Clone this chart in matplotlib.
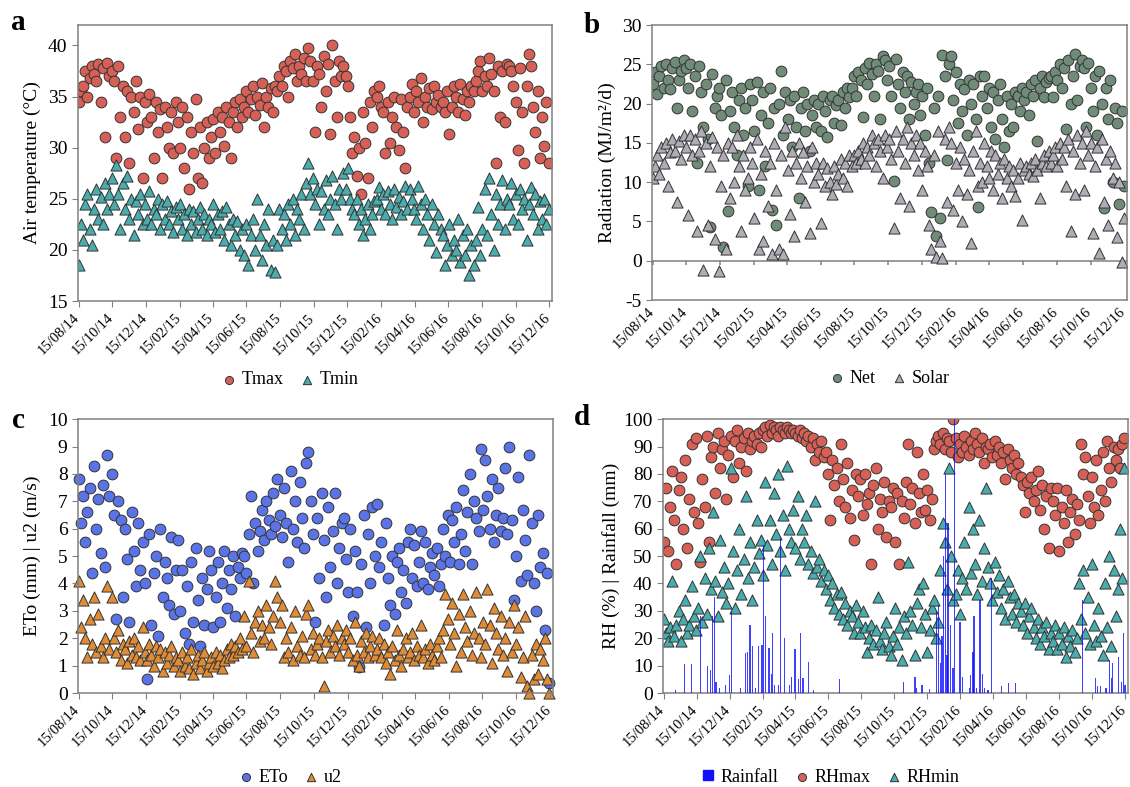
import numpy as np
import pandas as pd
import matplotlib
matplotlib.use('Agg')
import matplotlib.pyplot as plt
import matplotlib.dates as mdates
import matplotlib.transforms as mtransforms
from matplotlib.lines import Line2D

plt.rcParams['font.family'] = ['Liberation Serif', 'DejaVu Serif']
plt.rcParams['axes.unicode_minus'] = False

# 4-day samples starting 15/08/14, one row per two-month block
start = np.datetime64('2014-08-15')
step = 4

tmax = [34.5, 35.5, 36.0, 37.5, 35.0, 36.8, 38.0, 37.2, 36.5, 38.2, 34.5, 37.8, 31.0, 38.3, 37.0,
        37.5, 36.5, 29.0, 38.0, 33.0, 36.0, 31.0, 35.5, 28.5, 35.0, 33.5, 36.5, 31.8, 35.0, 27.0,
        34.5, 32.5, 35.3, 33.0, 29.0, 34.5, 31.5, 33.8, 27.0, 34.0, 32.0, 30.0, 33.5, 29.5, 34.5,
        32.5, 30.0, 34.0, 28.0, 33.0, 26.0, 31.5, 29.5, 34.8, 27.0, 32.0, 26.5, 30.0, 32.5, 29.0,
        31.0, 32.8, 29.5, 33.5, 31.5, 33.0, 30.2, 34.0, 32.5, 29.0, 33.5, 34.5, 32.0, 34.8, 33.0,
        34.0, 35.5, 33.5, 34.8, 36.0, 33.2, 35.0, 34.2, 36.3, 32.0, 35.0, 34.0, 35.8, 33.5, 36.0,
        35.5, 37.0, 36.0, 38.0, 37.5, 35.0, 38.5, 37.8, 39.2, 36.5, 38.0, 37.2, 38.8, 36.5, 39.8,
        38.5, 36.5, 31.5, 38.0, 37.2, 34.0, 39.0, 35.5, 38.2, 31.3, 40.0, 36.5, 33.0, 38.5, 37.0,
        38.0, 37.0, 36.0, 33.0, 29.5, 31.0, 27.2, 30.0, 25.5, 33.5, 30.5, 27.0, 34.5, 32.0, 35.5,
        35.0, 36.0, 34.0, 33.5, 29.5, 34.5, 30.5, 33.0, 35.0, 32.0, 29.8, 34.8, 31.5, 28.0, 34.0,
        35.0, 36.2, 33.5, 35.5, 34.5, 36.8, 32.5, 35.0, 34.0, 35.8, 33.8, 36.0, 34.5, 35.2, 34.0,
        34.5, 33.5, 35.5, 31.3, 34.0, 36.0, 35.0, 33.5, 36.2, 34.8, 33.2, 35.5, 34.5, 36.0, 35.5,
        36.5, 37.5, 38.5, 35.5, 37.0, 36.0, 38.8, 37.2, 35.5, 28.5, 38.0, 33.0, 37.5, 32.5, 38.2,
        38.0, 37.5, 36.0, 34.5, 29.8, 37.8, 33.5, 28.5, 36.0, 39.2, 38.0, 34.0, 31.5, 35.5, 29.0,
        33.0, 30.2, 34.5, 28.5]

tmin = [18.5, 22.5, 21.0, 24.5, 25.5, 22.0, 20.5, 24.0, 26.0, 23.0, 25.2, 22.5, 26.5, 24.0, 25.5,
        27.0, 24.5, 28.3, 25.5, 22.0, 26.5, 24.0, 27.2, 23.0, 25.0, 21.5, 24.8, 23.5, 25.5, 22.5,
        24.5, 23.0, 25.8, 22.5, 24.0, 23.5, 25.0, 22.0, 24.5, 23.0, 24.8, 22.5, 23.8, 21.8, 24.2,
        23.0, 24.5, 22.0, 23.5, 21.5, 24.0, 22.5, 23.8, 21.8, 23.0, 24.2, 22.0, 23.5, 21.5, 23.0,
        22.5, 24.5, 21.8, 23.5, 22.0, 23.8, 21.0, 24.2, 22.5, 20.5, 23.0, 21.5, 22.8, 20.0, 22.0,
        19.5, 22.5, 18.5, 21.5, 23.0, 20.0, 25.0, 21.5, 19.0, 22.5, 20.5, 24.0, 18.0, 21.0, 17.8,
        20.5, 24.0, 22.0, 23.5, 21.0, 24.5, 22.5, 25.0, 21.5, 24.0, 23.0, 25.5, 22.0, 26.5, 28.5,
        25.5, 27.0, 24.5, 26.0, 22.5, 25.8, 24.0, 26.8, 23.5, 25.0, 27.2, 24.5, 22.0, 26.0, 25.0,
        27.5, 26.0, 28.0, 25.0, 24.0, 23.5, 25.0, 22.5, 24.0, 21.5, 23.0, 24.5, 22.0, 23.5, 24.8,
        25.0, 26.2, 24.0, 25.5, 23.5, 25.8, 24.5, 23.0, 26.0, 24.2, 25.2, 23.5, 24.8, 26.3, 24.0,
        26.0, 25.0, 24.0, 23.0, 26.3, 24.5, 22.0, 25.0, 23.5, 21.0, 24.5, 22.5, 19.8, 23.5, 22.0,
        21.5, 18.5, 20.5, 22.5, 19.5, 21.0, 20.0, 23.0, 18.8, 21.5, 19.5, 22.0, 17.5, 20.5, 18.5,
        21.0, 24.2, 19.5, 22.0, 26.0, 21.5, 27.0, 23.5, 20.0, 25.5, 22.5, 24.5, 26.8, 22.0, 25.0,
        24.5, 26.5, 23.0, 25.5, 22.5, 26.0, 24.0, 25.0, 21.0, 24.5, 26.2, 23.5, 25.5, 22.0, 24.8,
        23.0, 25.0, 22.5, 24.0]

net = [22.5, 24.0, 21.2, 23.5, 24.8, 22.0, 25.0, 23.0, 21.8, 24.5, 25.3, 19.5, 23.0, 24.2, 25.5,
       24.5, 22.0, 25.0, 19.0, 23.5, 12.5, 24.8, 21.5, 17.0, 22.5, 15.5, 4.3, 23.8, 19.5, 21.0,
       22.0, 18.5, 1.8, 23.0, 6.3, 19.0, 21.5, 17.0, 13.5, 20.5, 22.0, 16.0, 19.5, 9.5, 22.5,
       20.5, 16.5, 22.8, 9.0, 18.5, 21.5, 12.0, 17.5, 22.0, 6.5, 19.5, 4.5, 20.0, 24.2, 16.0,
       21.5, 18.0, 20.5, 14.5, 21.0, 17.0, 8.0, 19.5, 21.5, 16.5, 20.0, 14.0, 18.5, 20.5, 17.0,
       20.0, 16.5, 21.0, 19.0, 15.8, 20.5, 21.0, 17.5, 19.8, 20.5, 17.3, 21.5, 19.5, 22.0, 20.8,
       22.0, 23.5, 21.0, 24.0, 23.0, 18.3, 24.5, 22.5, 25.2, 23.8, 21.0, 25.0, 24.2, 18.0, 26.0,
       25.5, 23.0, 24.8, 21.0, 10.2, 25.7, 22.5, 19.5, 24.0, 21.5, 23.5, 18.0, 22.8, 20.0, 21.5,
       22.5, 18.5, 21.0, 16.0, 22.0, 12.5, 6.2, 19.5, 3.2, 21.0, 5.5, 26.2, 23.5, 12.8, 25.0,
       26.0, 20.5, 24.0, 17.5, 22.5, 19.0, 21.8, 16.0, 23.0, 20.0, 22.5, 18.0, 6.8, 23.5, 21.0,
       23.5, 19.5, 22.0, 17.0, 21.5, 15.5, 20.5, 22.5, 18.0, 14.5, 21.0, 16.5, 20.0, 17.0, 21.5,
       21.0, 19.0, 22.0, 20.5, 21.5, 18.5, 22.5, 21.0, 23.0, 15.2, 22.0, 23.5, 20.8, 22.8, 23.2,
       23.5, 20.8, 24.0, 23.0, 25.0, 22.0, 24.5, 16.8, 25.5, 20.0, 23.5, 26.3, 20.5, 24.8, 25.5,
       24.5, 17.0, 25.2, 22.0, 19.0, 23.5, 16.0, 24.2, 20.0, 6.7, 22.0, 18.0, 23.0, 10.0, 19.5,
       17.5, 7.2, 19.0, 9.5]

solar = [10.5, 12.0, 13.5, 11.0, 14.5, 12.5, 15.0, 9.5, 13.8, 15.5, 14.0, 7.5, 15.2, 13.0, 16.0,
         14.5, 5.8, 16.0, 13.5, 15.5, 3.8, 14.0, 16.5, -1.2, 15.0, 4.5, 12.0, 15.8, 2.8, 14.5,
         -1.3, 9.5, 13.5, 1.5, 15.0, 8.0, 14.5, 10.0, 16.0, 12.0, 3.8, 13.5, 9.0, 10.5, 14.5,
         12.5, 5.5, 15.5, 1.5, 11.0, 2.5, 14.0, 7.0, 12.5, 0.8, 15.0, 9.0, 1.5, 13.5, 0.8,
         17.0, 11.5, 6.0, 14.0, 3.2, 12.5, 15.0, 10.5, 13.8, 7.5, 12.0, 3.5, 14.5, 10.0, 12.5,
         11.0, 4.8, 12.5, 9.5, 11.8, 10.0, 8.5, 12.0, 9.8, 11.0, 13.0, 10.5, 12.5, 9.5, 13.5,
         12.0, 13.5, 12.5, 14.0, 13.0, 15.0, 12.5, 14.5, 13.5, 16.0, 15.0, 12.0, 15.5, 14.0, 10.5,
         16.0, 14.5, 15.5, 13.0, 4.2, 16.5, 14.0, 8.0, 15.5, 12.5, 17.0, 7.0, 15.0, 13.5, 16.0,
         11.5, 15.0, 9.0, 14.0, 12.0, 4.5, 1.5, 13.5, 0.5, 16.5, 2.5, 0.3, 15.5, 7.5, 17.0,
         15.0, 6.5, 12.5, 9.0, 14.5, 5.0, 13.0, 8.5, 11.5, 2.2, 14.0, 16.5, 9.5, 12.5, 10.0,
         15.0, 12.0, 10.5, 14.0, 9.0, 13.5, 11.0, 12.5, 8.0, 13.0, 10.5, 12.0, 9.5, 11.5, 8.2,
         10.5, 12.5, 5.2, 11.5, 12.0, 11.0, 12.5, 10.8, 13.0, 11.5, 8.0, 12.5, 13.5, 12.0, 14.0,
         12.5, 13.5, 14.5, 12.0, 15.0, 13.0, 14.5, 9.5, 15.5, 3.8, 14.0, 8.5, 16.0, 12.5, 15.0,
         9.0, 16.5, 13.5, 15.0, 3.5, 12.0, 14.5, 1.0, 15.5, 7.5, 13.0, 4.5, 14.0, 10.5, 12.5,
         3.0, 10.0, -0.2, 5.5]

eto = [7.8, 6.2, 7.2, 5.5, 6.6, 7.5, 4.4, 8.3, 6.0, 7.1, 5.1, 7.6, 4.6, 8.7, 7.2,
       8.0, 6.5, 2.7, 7.0, 6.3, 3.5, 6.0, 4.9, 2.6, 6.6, 5.2, 3.9, 6.2, 4.5, 5.5,
       4.0, 0.5, 5.8, 2.5, 4.4, 5.0, 2.1, 6.0, 3.5, 4.8, 4.2, 3.2, 5.7, 2.9, 4.5,
       5.6, 3.0, 4.5, 2.2, 3.9, 1.8, 4.8, 2.6, 5.3, 3.4, 1.7, 4.2, 2.5, 3.8, 5.2,
       4.5, 2.4, 3.5, 4.8, 2.6, 4.0, 5.2, 3.1, 4.5, 3.8, 5.0, 2.8, 4.6, 4.2, 5.1,
       5.0, 4.4, 5.8, 7.2, 4.0, 6.2, 5.2, 5.9, 6.7, 5.6, 7.0, 6.3, 5.8, 7.3, 6.1,
       7.8, 6.5, 5.7, 7.5, 6.2, 4.8, 8.1, 6.0, 7.0, 5.5, 7.7, 6.4, 5.3, 8.4, 8.8,
       7.0, 5.8, 2.6, 6.4, 4.2, 7.3, 5.6, 3.5, 6.8, 4.6, 5.9, 7.3, 4.0, 5.3, 6.2,
       6.4, 4.9, 3.7, 6.0, 2.8, 5.2, 3.7, 0.95, 4.7, 6.5, 2.4, 5.8, 4.0, 6.8, 5.0,
       6.9, 4.6, 5.5, 2.5, 6.2, 4.2, 3.2, 5.0, 2.9, 4.8, 5.3, 3.7, 4.5, 3.3, 5.5,
       6.0, 4.2, 5.4, 3.9, 4.8, 5.9, 4.0, 5.5, 3.8, 4.6, 5.1, 4.3, 5.3, 3.9, 4.7,
       6.0, 5.0, 6.5, 4.8, 6.3, 5.5, 6.8, 4.7, 5.8, 7.4, 5.2, 6.6, 8.0, 4.7, 7.0,
       6.4, 5.9, 8.9, 6.7, 8.5, 7.2, 6.0, 7.8, 5.5, 6.5, 7.5, 5.9, 6.4, 8.2, 5.8,
       9.0, 6.3, 3.4, 5.0, 7.9, 4.1, 6.7, 5.6, 4.3, 8.7, 6.2, 4.0, 3.0, 6.5, 4.6,
       5.1, 2.3, 4.4, 0.35]

u2 = [4.1, 2.4, 3.4, 2.0, 1.3, 2.7, 1.8, 3.5, 1.5, 2.9, 1.7, 1.3, 2.0, 3.9, 1.6,
      3.5, 2.0, 1.5, 2.3, 1.2, 1.8, 1.6, 1.1, 1.9, 1.4, 2.0, 1.3, 1.7, 1.2, 2.4,
      1.5, 1.2, 1.8, 1.4, 1.0, 1.7, 1.3, 1.6, 0.8, 1.5, 1.1, 1.4, 1.7, 1.0, 1.3,
      1.2, 0.8, 1.5, 1.0, 1.3, 0.9, 1.6, 0.7, 1.1, 1.4, 0.9, 1.2, 1.5, 0.8, 1.1,
      1.3, 1.0, 1.5, 1.1, 1.4, 0.9, 1.2, 1.6, 1.3, 1.8, 1.4, 1.7, 1.5, 2.0, 1.6,
      2.8, 1.7, 4.1, 2.2, 1.5, 2.6, 3.0, 1.9, 2.5, 2.0, 3.2, 2.4, 1.8, 2.8, 4.1,
      3.5, 2.6, 3.2, 1.3, 2.0, 1.5, 2.4, 1.2, 3.0, 1.7, 1.4, 2.1, 1.3, 2.9, 3.2,
      1.6, 2.2, 1.4, 1.8, 2.0, 1.3, 0.25, 1.9, 2.3, 1.5, 2.1, 1.7, 2.5, 1.4, 2.0,
      1.8, 2.3, 1.5, 2.0, 1.2, 2.6, 1.4, 1.0, 1.9, 1.5, 2.2, 1.3, 1.7, 2.1, 1.4,
      1.6, 2.0, 1.3, 1.8, 1.1, 1.5, 0.7, 1.7, 1.2, 2.3, 1.4, 1.0, 1.6, 2.0, 1.3,
      1.5, 2.2, 1.2, 1.7, 1.4, 2.5, 1.3, 1.6, 1.1, 1.8, 1.4, 1.2, 1.7, 2.0, 1.3,
      2.3, 3.6, 2.7, 1.8, 3.3, 2.2, 1.0, 2.9, 1.5, 3.6, 2.4, 1.9, 3.0, 1.4, 2.2,
      3.7, 2.0, 1.3, 2.6, 1.8, 3.8, 2.5, 1.1, 3.1, 2.2, 1.6, 2.8, 1.4, 2.0, 0.8,
      2.6, 1.5, 3.2, 1.8, 2.4, 0.6, 1.3, 2.8, 0.25, 0.0, 1.4, 0.5, 1.8, 0.7, 1.6,
      1.2, 2.0, 0.5, 0.0]

rhmax = [55, 75, 52, 68, 81, 63, 47, 74, 79, 60, 85, 53, 71, 91, 66,
         93, 62, 48, 78, 68, 94, 55, 86, 90, 73, 95, 82, 89, 92, 71,
         87, 94, 79, 92, 96, 84, 90, 93, 81, 95, 89, 92, 94, 91, 95,
         90, 96, 97, 94, 98, 95, 97, 96, 94, 97, 96, 95, 97, 96, 95,
         96, 95, 94, 96, 93, 95, 92, 94, 90, 93, 85, 91, 88, 92, 86,
         88, 80, 63, 85, 76, 82, 70, 91, 78, 68, 84, 64, 74, 56, 80,
         72, 78, 65, 80, 69, 73, 47, 76, 82, 60, 71, 66, 77, 57, 70,
         68, 75, 55, 73, 47, 70, 64, 77, 91, 69, 75, 62, 88, 73, 66,
         80, 67, 74, 63, 71, 89, 92, 94, 91, 95, 89, 93, 92, 88, 100,
         93, 86, 91, 88, 94, 90, 87, 92, 89, 95, 91, 88, 93, 84, 90,
         89, 91, 86, 92, 87, 90, 84, 88, 78, 89, 85, 82, 87, 80, 84,
         79, 76, 66, 77, 73, 79, 70, 74, 81, 67, 76, 60, 72, 53, 75,
         70, 65, 75, 52, 68, 62, 74, 55, 66, 71, 58, 69, 63, 91, 80,
         86, 72, 62, 79, 68, 85, 65, 74, 88, 70, 92, 82, 77, 90, 85,
         89, 82, 91, 93]

rhmin = [27, 22, 19, 24, 41, 21, 25, 30, 19, 27, 34, 22, 25, 39, 28,
         23, 31, 50, 26, 42, 29, 53, 38, 66, 41, 28, 56, 37, 46, 33,
         40, 82, 52, 31, 45, 60, 36, 49, 72, 42, 55, 34, 46, 63, 51,
         56, 43, 77, 54, 63, 47, 73, 58, 80, 52, 65, 45, 83, 60, 55,
         67, 53, 72, 49, 60, 55, 65, 47, 52, 44, 70, 46, 49, 41, 45,
         38, 43, 34, 40, 31, 36, 29, 37, 27, 33, 25, 30, 28, 22, 32,
         26, 22, 30, 24, 15, 20, 25, 18, 23, 35, 19, 16, 22, 26, 17,
         14, 21, 31, 18, 24, 12, 28, 22, 48, 30, 25, 14, 33, 38, 24,
         40, 29, 15, 23, 31, 34, 20, 26, 45, 62, 55, 38, 82, 50, 34,
         36, 45, 29, 42, 55, 38, 68, 44, 60, 47, 36, 63, 41, 53, 75,
         46, 40, 34, 48, 37, 43, 31, 38, 27, 41, 35, 29, 36, 26, 33,
         30, 25, 33, 22, 28, 31, 24, 20, 27, 18, 24, 21, 26, 16, 22,
         19, 25, 16, 22, 18, 24, 13, 21, 17, 23, 15, 20, 40, 27, 45,
         22, 35, 18, 47, 25, 19, 31, 21, 14, 40, 24, 50, 17, 45, 28,
         38, 60, 42, 82]

# rain events: days after 15/08/14 and depth in mm
rain_day = [22, 39, 51, 69, 82, 87, 91, 94, 97, 104, 115, 122, 125, 142, 152, 155, 160, 165,
            170, 175, 182, 185, 189, 195, 199, 202, 205, 212, 217, 224, 233, 237, 243, 249,
            253, 258, 268, 278, 325, 444, 465, 468, 478, 492, 505, 508, 512, 515, 518, 522,
            524, 526, 530, 535, 538, 548, 552, 565, 568, 572, 574, 578, 585, 590, 593, 600,
            606, 625, 638, 650, 775, 798, 803, 808, 818, 825, 828, 830, 841, 846, 851, 853]
rain_mm = [1, 10.5, 10.5, 28, 10, 8.5, 28, 35, 4, 2, 3, 6.5, 30, 2, 14.5, 15, 25, 17,
           2, 17, 17.5, 54, 28, 16.5, 7, 22, 3, 3, 57, 20, 3, 6, 16, 5,
           22, 5.5, 11.5, 1, 5, 4, 6, 2, 3, 1.5, 30, 32, 11, 21, 50, 80,
           14, 62, 25, 9, 100, 26, 6, 2, 6.5, 15, 28, 2, 34, 7, 2, 1,
           42, 2.5, 3.5, 3.5, 34, 5.5, 2.5, 2.5, 2, 12, 5.5, 11, 13, 4, 22, 3]

red = '#d66056'
teal = '#4aacac'
edge = '#333333'
gray = '#808080'


def dates_for(values):
    return start + np.arange(len(values)) * step


def style_axes(ax, ylim, yticks, ylabel, lab_x):
    ax.set_xlim(np.datetime64('2014-08-14'), np.datetime64('2016-12-20'))
    ax.set_ylim(*ylim)
    ax.set_yticks(yticks)
    ticks = pd.date_range('2014-08-01', '2016-12-01', freq='2MS') + pd.Timedelta(days=14)
    ax.set_xticks(ticks)
    ax.xaxis.set_major_formatter(mdates.DateFormatter('%d/%m/%y'))
    ax.tick_params(axis='y', labelsize=14, direction='out', length=4)
    ax.tick_params(axis='both', color=gray)
    ax.tick_params(axis='x', length=4, labelsize=10.5)
    for s in ax.spines.values():
        s.set_color(gray)
        s.set_linewidth(1.1)
    ax.set_ylabel(ylabel, fontsize=14)
    ax.yaxis.set_label_coords(lab_x, 0.5)


def legend_below(ax, handles, labels, x, y):
    ax.legend(handles, labels, loc='center', bbox_to_anchor=(x, y), ncol=len(labels),
              frameon=False, fontsize=13, handlelength=0.8, handletextpad=0.3,
              columnspacing=0.9, markerscale=0.75, borderaxespad=0)


fig = plt.figure(figsize=(11.3, 7.87), dpi=100)
ax_a = fig.add_axes([0.069, 0.6175, 0.4195, 0.3507])
ax_b = fig.add_axes([0.577, 0.6188, 0.4204, 0.3494])
ax_c = fig.add_axes([0.069, 0.1194, 0.420, 0.348])
ax_d = fig.add_axes([0.5867, 0.1194, 0.4112, 0.348])

mk = dict(edgecolors=edge, linewidths=0.7)
cs, ts = 60, 64

# a: air temperature
h1 = ax_a.scatter(dates_for(tmax), tmax, s=cs, marker='o', c=red, **mk)
h2 = ax_a.scatter(dates_for(tmin), tmin, s=ts, marker='^', c=teal, **mk)
style_axes(ax_a, (15, 42), range(15, 41, 5), 'Air temperature (\u00b0C)', -0.078)
legend_below(ax_a, [h1, h2], ['Tmax', 'Tmin'], 0.447, -0.286)

# b: radiation
h1 = ax_b.scatter(dates_for(net), net, s=cs, marker='o', c='#708c78', **mk)
h2 = ax_b.scatter(dates_for(solar), solar, s=ts, marker='^', c='#b0acb6', **mk)
style_axes(ax_b, (-5, 30), range(-5, 31, 5), 'Radiation (MJ/m\u00b2/d)', -0.076)
ax_b.axhline(0, color=gray, lw=1.1, zorder=0.5)
ax_b.tick_params(axis='x', length=0)
ax_b.vlines(ax_b.get_xticks(), -0.6, 0, color=gray, lw=1.1, zorder=0.5)
legend_below(ax_b, [h1, h2], ['Net', 'Solar'], 0.50, -0.286)

# c: reference evapotranspiration and wind speed
h1 = ax_c.scatter(dates_for(eto), eto, s=cs, marker='o', c='#5a73e6', clip_on=False, **mk)
h2 = ax_c.scatter(dates_for(u2), u2, s=ts, marker='^', c='#e08c37', clip_on=False, **mk)
style_axes(ax_c, (0, 10), range(0, 11), 'ETo (mm) | u2 (m/s)', -0.078)
legend_below(ax_c, [h1, h2], ['ETo', 'u2'], 0.447, -0.307)

# d: relative humidity and rainfall
rain_dates = start + np.array(rain_day)
h1 = ax_d.scatter(dates_for(rhmax), rhmax, s=cs, marker='o', c=red, zorder=2, **mk)
h2 = ax_d.scatter(dates_for(rhmin), rhmin, s=ts, marker='^', c=teal, zorder=2, **mk)
ax_d.bar(rain_dates, rain_mm, width=2.2, color='#1010ff', alpha=0.8, linewidth=0, zorder=3)
style_axes(ax_d, (0, 100), range(0, 101, 10), 'RH (%) | Rainfall (mm)', -0.092)
h0 = Line2D([], [], ls='none', marker='s', markersize=9, color='#1010ff')
legend_below(ax_d, [h0, h1, h2], ['Rainfall', 'RHmax', 'RHmin'], 0.36, -0.307)

# rotated date labels, nudged left so the last one stays inside the figure
shift = mtransforms.ScaledTranslation(-4 / 72, 0, fig.dpi_scale_trans)
for ax in (ax_a, ax_b, ax_c, ax_d):
    for lab in ax.get_xticklabels():
        lab.set_rotation(45)
        lab.set_ha('right')
        lab.set_rotation_mode('anchor')
        lab.set_transform(lab.get_transform() + shift)

fig.text(0.016, 0.972, 'a', ha='center', va='center', fontsize=21, fontweight='bold')
fig.text(0.524, 0.968, 'b', ha='center', va='center', fontsize=21, fontweight='bold')
fig.text(0.016, 0.466, 'c', ha='center', va='center', fontsize=21, fontweight='bold')
fig.text(0.515, 0.469, 'd', ha='center', va='center', fontsize=21, fontweight='bold')

fig.savefig('out.png', dpi=100)
